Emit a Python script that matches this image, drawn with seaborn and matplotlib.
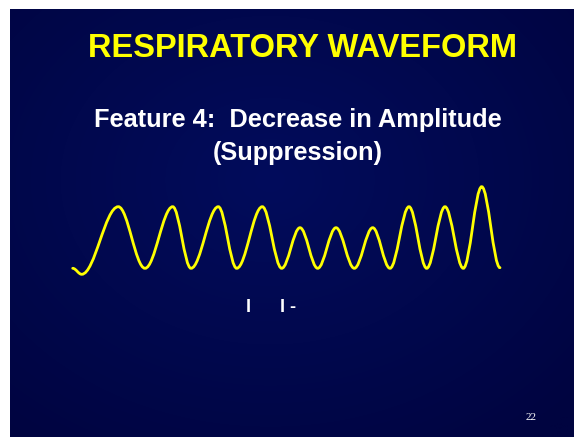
import numpy as np
import matplotlib.pyplot as plt
import seaborn as sns
from matplotlib.path import Path
from matplotlib.patches import PathPatch

sns.set_theme(style="white")
plt.rcParams["font.family"] = ["Liberation Sans", "DejaVu Sans"]

# waveform turning points (slide pixel coordinates, y grows downwards)
wave_x = [72.7, 81.7, 118.3, 145.0, 172.7, 191.0, 218.3, 236.7, 262.3, 281.7,
          300.0, 317.7, 336.0, 354.3, 372.7, 390.0, 409.0, 426.7, 445.0, 463.3,
          481.7, 500.0]
wave_y = [268.3, 274.3, 206.7, 268.3, 206.7, 268.3, 206.7, 268.3, 206.7, 268.3,
          227.7, 268.3, 227.7, 268.3, 227.7, 268.3, 206.7, 268.3, 206.7, 268.3,
          186.7, 267.7]

title = "RESPIRATORY WAVEFORM"
subtitle_lines = ["Feature 4:  Decrease in Amplitude", "(Suppression)"]
page_no = "22"

W, H = 574, 437
fig = plt.figure(figsize=(W / 100, H / 100), dpi=100)
fig.patch.set_facecolor("white")
ax = fig.add_axes([0, 0, 1, 1])
ax.set_xlim(0, W)
ax.set_ylim(H, 0)
ax.axis("off")

# slide background: very soft radial navy gradient
gx, gy = np.meshgrid(np.linspace(10, W, 300), np.linspace(9, H, 240))
r = np.sqrt(((gx - 270) / 420) ** 2 + ((gy - 180) / 330) ** 2)
r = np.clip(r, 0, 1)[..., None]
inner = np.array([2, 12, 92]) / 255
outer = np.array([0, 4, 64]) / 255
img = inner * (1 - r) + outer * r
ax.imshow(img, extent=[10, W, H, 9], aspect="auto", zorder=0, interpolation="bilinear")

# smooth wave: bezier segments with flat tangents at each turning point
verts = [(wave_x[0], wave_y[0])]
codes = [Path.MOVETO]
for i in range(len(wave_x) - 1):
    x0, y0, x1, y1 = wave_x[i], wave_y[i], wave_x[i + 1], wave_y[i + 1]
    d = (x1 - x0) * 0.36
    verts += [(x0 + d, y0), (x1 - d, y1), (x1, y1)]
    codes += [Path.CURVE4] * 3
ax.add_patch(PathPatch(Path(verts, codes), facecolor="none", edgecolor="#FFFF00",
                       lw=2.0, capstyle="round", zorder=3))

ax.text(303, 57, title, color="#FFFF00", fontsize=23.5, fontweight="bold",
        ha="center", va="baseline")
ax.text(298, 127, subtitle_lines[0], color="white", fontsize=18.3, fontweight="bold",
        ha="center", va="baseline")
ax.text(298, 160, subtitle_lines[1], color="white", fontsize=18.3, fontweight="bold",
        ha="center", va="baseline")
ax.text(248.5, 307, "I", color="white", fontsize=13, fontweight="bold",
        ha="center", va="center")
ax.text(280, 307, "I -", color="white", fontsize=13, fontweight="bold",
        ha="left", va="center")
ax.text(531, 418, page_no, color="white", fontsize=8, family="Liberation Serif",
        ha="center", va="center")

fig.savefig("out.png", dpi=100)
